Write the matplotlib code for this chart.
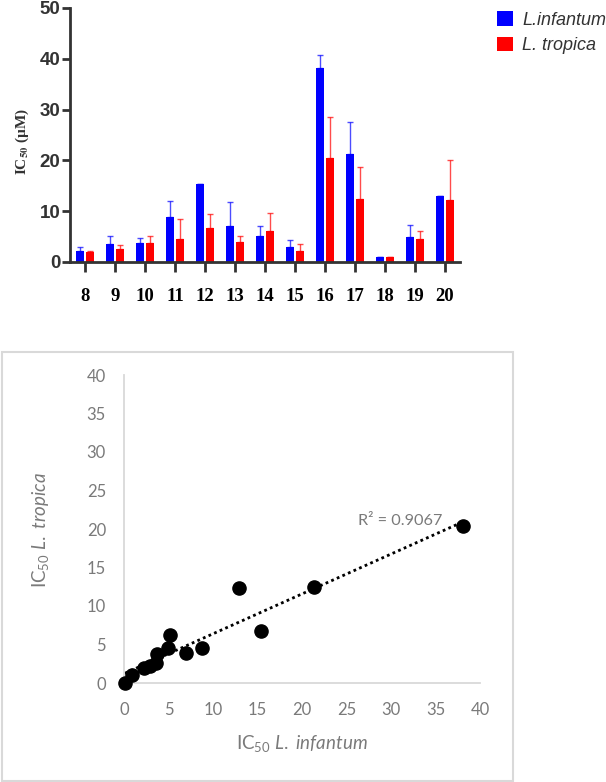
import numpy as np
import matplotlib.pyplot as plt
from matplotlib.patches import Rectangle

plt.rcParams['mathtext.fontset'] = 'custom'
plt.rcParams['mathtext.rm'] = 'Lato'
plt.rcParams['mathtext.it'] = 'Lato:italic'
plt.rcParams['mathtext.bf'] = 'Lato:bold'

## данные для столбчатой диаграммы
compounds = ['8', '9', '10', '11', '12', '13', '14', '15', '16', '17', '18', '19', '20']
infantum = [2.2, 3.6, 3.7, 8.8, 15.4, 7.0, 5.2, 2.9, 38.1, 21.3, 0.9, 4.9, 12.9]
infantum_err = [0.7, 1.6, 1.1, 3.3, 0.0, 4.9, 1.8, 1.4, 2.7, 6.3, 0.0, 2.3, 0.0]
tropica = [2.0, 2.6, 3.8, 4.6, 6.7, 3.9, 6.2, 2.2, 20.4, 12.5, 1.0, 4.5, 12.3]
tropica_err = [0.2, 0.7, 1.3, 3.8, 2.8, 1.2, 3.5, 1.4, 8.1, 6.2, 0.0, 1.7, 7.8]

## данные для диаграммы рассеяния
scatter_x = [0.1, 0.9, 2.2, 2.9, 3.6, 3.7, 4.9, 5.2, 7.0, 8.8, 12.9, 15.4, 21.3, 38.1]
scatter_y = [0.05, 1.0, 2.0, 2.2, 2.6, 3.8, 4.5, 6.2, 3.9, 4.6, 12.3, 6.7, 12.5, 20.4]
r2_text = 'R² = 0.9067'

blue = '#0000ff'
red = '#ff0000'
gray = '#7a7a7a'
light = '#d9d9d9'

fig = plt.figure(figsize=(6.06, 7.82), dpi=100)

## верхний график
ax1 = fig.add_axes([70 / 606, 1 - 262 / 782, 390 / 606, 254 / 782])
x = np.arange(len(compounds))
w = 0.27
zeros = np.zeros(len(compounds))
b1 = ax1.bar(x - 0.18, infantum, w, color=blue, label='L.infantum',
             yerr=[zeros, infantum_err],
             error_kw=dict(ecolor=blue, elinewidth=1, capsize=2, capthick=1, alpha=0.7))
b2 = ax1.bar(x + 0.18, tropica, w, color=red, label='L. tropica',
             yerr=[zeros, tropica_err],
             error_kw=dict(ecolor=red, elinewidth=1, capsize=2, capthick=1, alpha=0.7))
ax1.set_xlim(-0.5, 12.5)
ax1.set_ylim(0, 50)
ax1.spines['top'].set_visible(False)
ax1.spines['right'].set_visible(False)
for s in ['left', 'bottom']:
    ax1.spines[s].set_linewidth(2)
    ax1.spines[s].set_color('#333333')
ax1.set_yticks([0, 10, 20, 30, 40, 50])
ax1.tick_params(axis='y', length=6, width=2, color='#333333', pad=1, labelsize=13.5)
for lbl in ax1.get_yticklabels():
    lbl.set_fontweight('bold')
    lbl.set_fontfamily('Liberation Sans')
    lbl.set_color('#333333')
ax1.set_xticks(x)
ax1.set_xticklabels(compounds, fontfamily='Liberation Serif', fontweight='bold', fontsize=13.5)
ax1.tick_params(axis='x', length=7, width=2, color='#333333', pad=12)
ylab = ax1.set_ylabel(r'IC$_{\mathbf{50}}$ (µM)', fontfamily='Liberation Serif',
                      fontweight='bold', fontsize=11, color='#333333')
ylab.set_math_fontfamily('stix')
ax1.yaxis.set_label_coords(-0.1, 0.476)

fig.legend(handles=[b1, b2], loc='upper left', bbox_to_anchor=(490 / 606, 1 - 4 / 782),
           frameon=False, prop={'family': 'Liberation Sans', 'style': 'italic', 'size': 13},
           labelcolor='#333333', handlelength=0.85, handleheight=0.85,
           handletextpad=0.55, labelspacing=0.45, borderaxespad=0)

## рамка нижнего графика
fig.add_artist(Rectangle((2 / 606, 1 / 782), 511 / 606, 429 / 782, transform=fig.transFigure,
                         fill=False, edgecolor=light, linewidth=1.5))

## нижний график
ax2 = fig.add_axes([124 / 606, 1 - 683 / 782, 356 / 606, 308 / 782])
ax2.scatter(scatter_x, scatter_y, s=90, color='black', zorder=3, clip_on=False)
coef = np.polyfit(scatter_x, scatter_y, 1)
xs = np.linspace(min(scatter_x), max(scatter_x), 50)
ax2.plot(xs, np.polyval(coef, xs), color='black', linestyle=(0, (1, 1.2)), linewidth=2, zorder=2)
ax2.text(31, 21.0, r2_text, ha='center', va='center', color=gray, fontsize=11.7, fontfamily='Lato')
ax2.set_xlim(0, 40)
ax2.set_ylim(0, 40)
ax2.set_xticks(np.arange(0, 41, 5))
ax2.set_yticks(np.arange(0, 41, 5))
ax2.spines['top'].set_visible(False)
ax2.spines['right'].set_visible(False)
for s in ['left', 'bottom']:
    ax2.spines[s].set_linewidth(1.3)
    ax2.spines[s].set_color(light)
ax2.tick_params(axis='both', length=0, labelsize=12, labelcolor=gray)
ax2.tick_params(axis='x', pad=14)
ax2.tick_params(axis='y', pad=13)
for lbl in ax2.get_xticklabels() + ax2.get_yticklabels():
    lbl.set_fontfamily('Lato')
ax2.set_xlabel(r'IC$_{\mathrm{50}}$ $\mathit{L.\ infantum}$', fontfamily='Lato', fontsize=13.5, color=gray)
ax2.set_ylabel(r'IC$_{\mathrm{50}}$ $\mathit{L.\ tropica}$', fontfamily='Lato', fontsize=13.5, color=gray)
ax2.xaxis.set_label_coords(0.5, -0.162)
ax2.yaxis.set_label_coords(-0.205, 0.497)

fig.savefig('out.png', dpi=100)
